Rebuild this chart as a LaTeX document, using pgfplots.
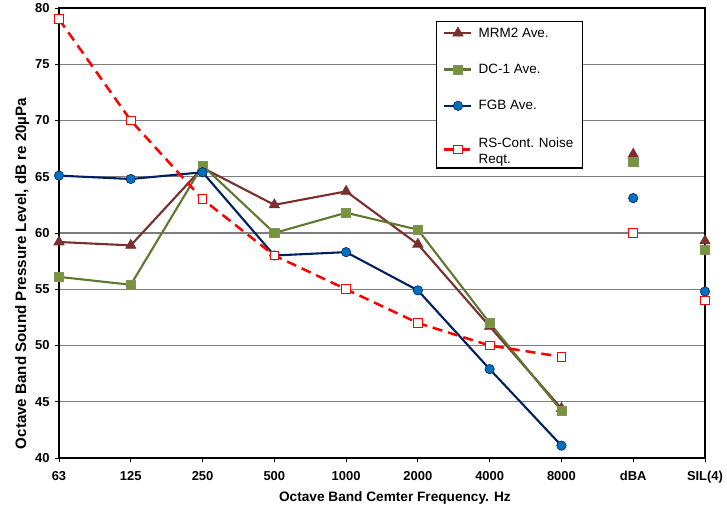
\documentclass[border=0pt]{standalone}
\usepackage{fontspec}
\setmainfont{Liberation Sans}
\usepackage{pgfplots}
\pgfplotsset{compat=1.18}
\definecolor{mrm}{RGB}{122,46,46}
\definecolor{dcline}{RGB}{94,120,48}
\definecolor{dcfill}{RGB}{119,147,60}
\definecolor{fgbline}{RGB}{0,32,96}
\definecolor{fgbfill}{RGB}{0,112,192}
\definecolor{gridc}{RGB}{125,125,125}
\begin{document}
\begin{tikzpicture}
\begin{axis}[
  scale only axis, width=646bp, height=450bp,
  xmin=0, xmax=9, ymin=40, ymax=80,
  xtick={0,...,9},
  xticklabels={63,125,250,500,1000,2000,4000,8000,dBA,SIL(4)},
  ytick={40,45,...,80},
  /pgf/number format/assume math mode=true,
  ymajorgrids, grid style={gridc, line width=1.2bp},
  axis line style={line width=2.6bp},
  tick style={black, line width=0.8bp}, tick align=outside, major tick length=4bp,
  xtick pos=bottom, ytick pos=left,
  ticklabel style={font=\fontsize{13}{15}\selectfont\bfseries},
  xticklabel style={yshift=-6bp},
  yticklabel style={xshift=-2bp},
  xlabel={Octave Band Cemter Frequency. Hz},
  ylabel={Octave Band Sound Pressure Level, dB re 20µPa},
  xlabel style={font=\fontsize{13.7}{16}\selectfont\bfseries, at={(ticklabel cs:0.52)}, anchor=near ticklabel, yshift=-1bp},
  ylabel style={font=\fontsize{15.2}{17}\selectfont\bfseries, at={(ticklabel cs:0.41)}, yshift=-1bp},
  clip=false,
  unbounded coords=jump,
  legend cell align=left,
  legend image code/.code={\draw[mark repeat=2,mark phase=2,#1] plot coordinates {(0bp,0bp)(13.5bp,0bp)(27bp,0bp)};},
  legend style={at={(0.583,0.971)}, anchor=north west, draw=black, line width=1.2bp, fill=white,
    font=\fontsize{13.5}{16}\selectfont, row sep=21.5bp, inner xsep=7bp, inner ysep=4bp,
    /tikz/every odd column/.style={column sep=4bp}},
]
\addplot[mrm, line width=2.1bp, mark=triangle*, mark size=6bp, mark options={solid, fill=mrm, draw=mrm, line width=0.6bp}]
  coordinates {(0,59.2) (1,58.9) (2,65.8) (3,62.5) (4,63.7) (5,59.0) (6,51.7) (7,44.4) (7.5,nan) (8,67.0) (8.5,nan) (9,59.3)};
\addlegendentry{MRM2 Ave.}
\addplot[dcline, line width=2.1bp, mark=square*, mark size=4.6bp, mark options={solid, fill=dcfill, draw=dcline!80!white, line width=0.6bp}]
  coordinates {(0,56.1) (1,55.4) (2,66.0) (3,60.0) (4,61.8) (5,60.3) (6,52.0) (7,44.2) (7.5,nan) (8,66.3) (8.5,nan) (9,58.5)};
\addlegendentry{DC-1 Ave.}
\addplot[fgbline, line width=2.1bp, mark=*, mark size=4.7bp, mark options={solid, fill=fgbfill, draw=fgbline, line width=0.6bp}]
  coordinates {(0,65.1) (1,64.8) (2,65.4) (3,58.0) (4,58.3) (5,54.9) (6,47.9) (7,41.1) (7.5,nan) (8,63.1) (8.5,nan) (9,54.8)};
\addlegendentry{FGB Ave.}
\addplot[red, line width=2.5bp, dash pattern=on 10bp off 6bp, mark=square*, mark size=4.3bp, mark options={solid, fill=white, draw=red, line width=0.9bp}]
  coordinates {(0,79) (1,70) (2,63) (3,58) (4,55) (5,52) (6,50) (7,49) (7.5,nan) (8,60) (8.5,nan) (9,54)};
\addlegendentry[text depth=14bp]{\begin{tabular}[t]{@{}l@{}}RS-Cont. Noise\\Reqt.\end{tabular}}
\end{axis}
\pgfresetboundingbox
\path[use as bounding box] (-59bp,-49bp) rectangle (668bp,458bp);
\end{tikzpicture}
\end{document}
